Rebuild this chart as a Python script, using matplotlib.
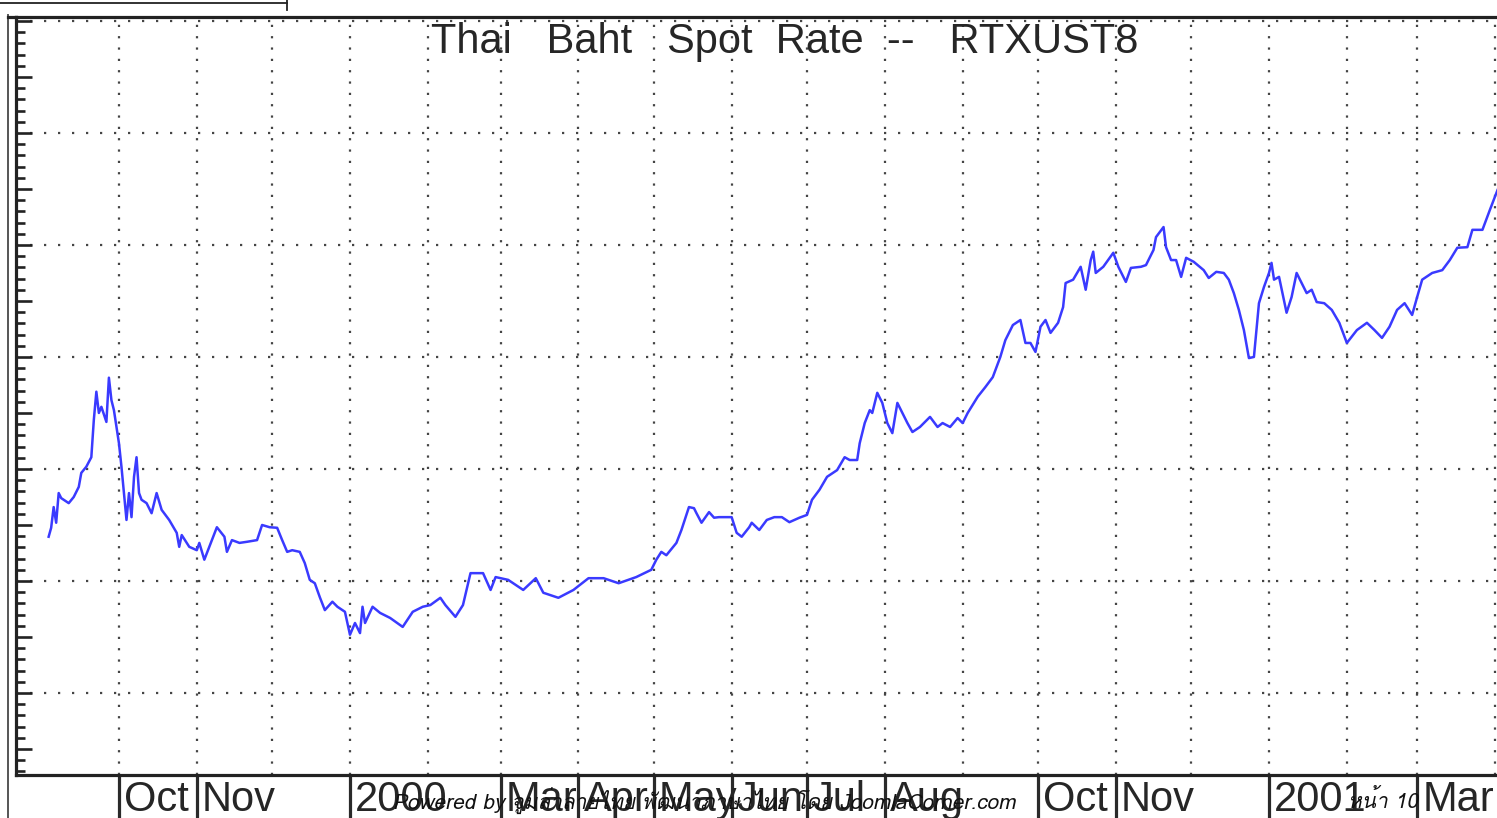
import numpy as np
import pandas as pd
import matplotlib
matplotlib.use("Agg")
import matplotlib.pyplot as plt
import matplotlib.dates as mdates
from matplotlib.ticker import MultipleLocator
from matplotlib.transforms import offset_copy
from matplotlib.lines import Line2D
from matplotlib import font_manager as fm
from matplotlib.ft2font import FT2Font

# ---------------- data ----------------
dates = [
    "1999-09-03", "1999-09-04", "1999-09-05", "1999-09-06", "1999-09-07", "1999-09-08", "1999-09-11",
    "1999-09-13", "1999-09-15", "1999-09-16", "1999-09-18", "1999-09-20", "1999-09-21", "1999-09-22",
    "1999-09-23", "1999-09-24", "1999-09-26", "1999-09-27", "1999-09-28", "1999-09-29",
    "1999-10-01", "1999-10-02", "1999-10-04", "1999-10-05", "1999-10-06", "1999-10-07", "1999-10-08",
    "1999-10-09", "1999-10-10", "1999-10-12", "1999-10-14", "1999-10-16", "1999-10-18", "1999-10-21",
    "1999-10-24", "1999-10-25", "1999-10-26", "1999-10-29",
    "1999-11-01", "1999-11-02", "1999-11-04", "1999-11-06", "1999-11-09", "1999-11-12", "1999-11-13",
    "1999-11-15", "1999-11-18", "1999-11-21", "1999-11-25", "1999-11-27", "1999-11-30",
    "1999-12-03", "1999-12-05", "1999-12-07", "1999-12-09", "1999-12-12", "1999-12-14", "1999-12-16",
    "1999-12-18", "1999-12-20", "1999-12-22", "1999-12-25", "1999-12-27", "1999-12-30",
    "2000-01-01", "2000-01-03", "2000-01-05", "2000-01-06", "2000-01-07", "2000-01-10", "2000-01-13",
    "2000-01-17", "2000-01-22", "2000-01-26", "2000-01-30",
    "2000-02-02", "2000-02-06", "2000-02-08", "2000-02-12", "2000-02-15", "2000-02-18", "2000-02-20",
    "2000-02-23", "2000-02-26", "2000-02-28",
    "2000-03-04", "2000-03-10", "2000-03-15", "2000-03-18", "2000-03-24", "2000-03-30",
    "2000-04-05", "2000-04-11", "2000-04-17", "2000-04-24", "2000-04-30",
    "2000-05-02", "2000-05-04", "2000-05-06", "2000-05-10", "2000-05-12", "2000-05-15", "2000-05-17",
    "2000-05-18", "2000-05-20", "2000-05-23", "2000-05-25", "2000-05-27",
    "2000-06-01", "2000-06-03", "2000-06-05", "2000-06-08", "2000-06-09", "2000-06-12", "2000-06-15",
    "2000-06-18", "2000-06-21", "2000-06-24", "2000-06-28",
    "2000-07-01", "2000-07-03", "2000-07-06", "2000-07-09", "2000-07-13", "2000-07-16", "2000-07-18",
    "2000-07-21", "2000-07-22", "2000-07-24", "2000-07-26", "2000-07-27", "2000-07-29", "2000-07-31",
    "2000-08-02", "2000-08-04", "2000-08-06", "2000-08-08", "2000-08-10", "2000-08-12", "2000-08-15",
    "2000-08-19", "2000-08-22", "2000-08-24", "2000-08-27", "2000-08-30",
    "2000-09-01", "2000-09-03", "2000-09-07", "2000-09-10", "2000-09-13", "2000-09-16", "2000-09-18",
    "2000-09-21", "2000-09-24", "2000-09-26", "2000-09-28", "2000-09-30",
    "2000-10-02", "2000-10-04", "2000-10-06", "2000-10-09", "2000-10-11", "2000-10-12", "2000-10-15",
    "2000-10-18", "2000-10-20", "2000-10-22", "2000-10-23", "2000-10-24", "2000-10-27", "2000-10-31",
    "2000-11-02", "2000-11-05", "2000-11-07", "2000-11-11", "2000-11-13", "2000-11-16", "2000-11-17",
    "2000-11-20", "2000-11-21", "2000-11-23", "2000-11-25", "2000-11-27", "2000-11-29",
    "2000-12-02", "2000-12-06", "2000-12-08", "2000-12-11", "2000-12-14", "2000-12-16", "2000-12-18",
    "2000-12-20", "2000-12-22", "2000-12-24", "2000-12-26", "2000-12-27", "2000-12-28", "2000-12-30",
    "2001-01-01", "2001-01-02", "2001-01-03", "2001-01-05", "2001-01-08", "2001-01-10", "2001-01-12",
    "2001-01-14", "2001-01-16", "2001-01-18", "2001-01-20", "2001-01-23", "2001-01-26", "2001-01-29",
    "2001-02-01", "2001-02-05", "2001-02-09", "2001-02-12", "2001-02-15", "2001-02-18", "2001-02-21",
    "2001-02-24", "2001-02-27",
    "2001-03-01", "2001-03-03", "2001-03-07", "2001-03-11", "2001-03-14", "2001-03-17", "2001-03-21",
    "2001-03-23", "2001-03-27", "2001-03-30", "2001-04-02",
]
rates = [
    38.79, 38.95, 39.32, 39.04, 39.57, 39.48, 39.39, 39.50, 39.68, 39.93, 40.04, 40.21, 40.88, 41.38,
    41.00, 41.11, 40.84, 41.63, 41.23, 41.05,
    40.46, 40.04, 39.09, 39.57, 39.14, 39.86, 40.21, 39.57, 39.45, 39.39, 39.21, 39.57, 39.27, 39.09,
    38.86, 38.61, 38.82, 38.61,
    38.55, 38.68, 38.38, 38.61, 38.96, 38.79, 38.52, 38.73, 38.68, 38.70, 38.73, 39.00, 38.96,
    38.95, 38.73, 38.52, 38.55, 38.52, 38.32, 38.02, 37.96, 37.71, 37.48, 37.63, 37.54, 37.45,
    37.04, 37.25, 37.07, 37.54, 37.25, 37.54, 37.43, 37.34, 37.18, 37.45, 37.54,
    37.57, 37.70, 37.57, 37.36, 37.57, 38.14, 38.14, 38.14, 37.84, 38.07,
    38.02, 37.84, 38.05, 37.79, 37.70, 37.84,
    38.05, 38.05, 37.96, 38.07, 38.20,
    38.38, 38.52, 38.46, 38.68, 38.91, 39.32, 39.30, 39.21, 39.04, 39.23, 39.13, 39.14,
    39.14, 38.86, 38.79, 38.96, 39.04, 38.91, 39.09, 39.14, 39.14, 39.05, 39.13,
    39.18, 39.45, 39.63, 39.86, 39.98, 40.21, 40.16, 40.16, 40.46, 40.82, 41.05, 41.00, 41.36, 41.18,
    40.82, 40.64, 41.18, 41.00, 40.82, 40.66, 40.75, 40.93, 40.75, 40.82, 40.75, 40.91,
    40.82, 41.00, 41.29, 41.46, 41.64, 42.00, 42.30, 42.57, 42.66, 42.25, 42.25, 42.09,
    42.54, 42.66, 42.43, 42.61, 42.89, 43.32, 43.38, 43.61, 43.20, 43.73, 43.88, 43.50, 43.61, 43.86,
    43.61, 43.34, 43.59, 43.61, 43.64, 43.91, 44.14, 44.32, 43.96, 43.73, 43.73, 43.43, 43.77,
    43.70, 43.55, 43.41, 43.52, 43.50, 43.38, 43.14, 42.84, 42.48, 41.98, 42.00, 42.48, 42.96, 43.25,
    43.50, 43.68, 43.38, 43.43, 42.79, 43.07, 43.50, 43.32, 43.14, 43.20, 42.98, 42.96, 42.84, 42.61,
    42.25, 42.48, 42.61, 42.48, 42.34, 42.54, 42.84, 42.96, 42.75,
    43.07, 43.38, 43.50, 43.55, 43.73, 43.95, 43.96, 44.27, 44.27, 44.63, 44.98,
]
label_dates = ["1999-10-01", "1999-11-01", "2000-01-01", "2000-03-01", "2000-04-01", "2000-05-01",
               "2000-06-01", "2000-07-01", "2000-08-01", "2000-10-01", "2000-11-01", "2001-01-01",
               "2001-03-01"]
label_texts = ["Oct", "Nov", "2000", "Mar", "Apr", "May", "Jun", "Jul", "Aug", "Oct", "Nov", "2001", "Mar"]
grid_start, grid_end = "1999-10-01", "2001-04-01"
title = "Thai   Baht   Spot  Rate  --   RTXUST8"
footer_text = "Powered by จูมล่าลายไทย พัฒนาภาษาไทย โดย JoomlaCorner.com"
page_text = "หน้า 10"

# ---------------- fonts ----------------
thai_family = None
for f in fm.fontManager.ttflist:
    try:
        if 0x0E01 in FT2Font(f.fname).get_charmap():
            thai_family = f.name
            break
    except Exception:
        pass
base = "Liberation Sans"
wm_fam = ([thai_family] if thai_family else []) + ["DejaVu Sans"]

# ---------------- figure ----------------
W, H = 1497, 818
fig = plt.figure(figsize=(W / 100, H / 100), dpi=100)
fig.patch.set_facecolor("white")

ax_l, ax_r, ax_t, ax_b = 16, 1497, 17, 775
ax = fig.add_axes([ax_l / W, (H - ax_b) / H, (ax_r - ax_l) / W, (ax_b - ax_t) / H])

x = pd.to_datetime(dates)
ax.plot(x, rates, color="#3a3aff", lw=1.8, zorder=3)

x0 = mdates.date2num(pd.Timestamp("1999-08-21"))
x1 = mdates.date2num(pd.Timestamp("2001-04-01")) + 0.8
ax.set_xlim(x0, x1)
ax.set_ylim(34.536, 48.07)

# vertical dotted grid at each month start
ax.set_xticks(pd.date_range(grid_start, grid_end, freq="MS"))
ax.tick_params(axis="x", which="both", length=0, labelbottom=False)
ax.xaxis.grid(True, color="#444444", lw=1.6, linestyle=(0, (1, 4.1)))

# y ticks: long every 1, short every 0.2, no labels
ax.yaxis.set_major_locator(MultipleLocator(1))
ax.yaxis.set_minor_locator(MultipleLocator(0.2))
ax.tick_params(axis="y", which="major", direction="in", length=11.5, width=1.9,
               color="#222222", labelleft=False)
ax.tick_params(axis="y", which="minor", direction="in", length=6.2, width=1.9, color="#222222")
ax.yaxis.grid(False)
for g in MultipleLocator(2).tick_values(34.536, 48.07):
    if 34.6 < g < 48.07:
        ax.axhline(g, color="#444444", lw=1.6, linestyle=(0, (1, 5.3)), zorder=1)

for s in ["left", "bottom", "top"]:
    ax.spines[s].set_color("#222222")
    ax.spines[s].set_linewidth(2.3)
ax.spines["right"].set_visible(False)

# month label boxes below the axis
sep_bottom = -(H - ax_b) / (ax_b - ax_t)
ax.vlines(pd.to_datetime(label_dates), sep_bottom, 0, transform=ax.get_xaxis_transform(),
          color="#2a2a2a", lw=2.3, clip_on=False)
lab_tr = offset_copy(ax.get_xaxis_transform(), fig=fig, x=5, y=0, units="dots")
for d, t in zip(pd.to_datetime(label_dates), label_texts):
    ax.text(mdates.date2num(d), -25 / (ax_b - ax_t), t, transform=lab_tr, ha="left", va="center",
            fontsize=30, family=base, color="#262626", clip_on=False)

# title
fig.text(785 / W, 1 - 42 / H, title, ha="center", va="center", fontsize=30, family=base,
         color="#262626")

# frame lines
fig.add_artist(Line2D([8 / W, 8 / W], [0, 1 - 15 / H], transform=fig.transFigure,
                      color="#555555", lw=1.4))
fig.add_artist(Line2D([8 / W, ax_l / W], [1 - 17 / H, 1 - 17 / H], transform=fig.transFigure,
                      color="#222222", lw=2.3))
fig.add_artist(Line2D([0, 287 / W], [1 - 3 / H, 1 - 3 / H], transform=fig.transFigure,
                      color="#222222", lw=1.3))
fig.add_artist(Line2D([287 / W, 287 / W], [1, 1 - 10 / H], transform=fig.transFigure,
                      color="#222222", lw=1.3))

# overlaid footer watermark
fig.text(393 / W, 1 - 801 / H, footer_text, ha="left", va="center", fontsize=15,
         style="italic", family=wm_fam, color="#111111")
fig.text(1348 / W, 1 - 801 / H, page_text, ha="left", va="center", fontsize=15,
         style="italic", family=wm_fam, color="#111111")

fig.savefig("out.png", dpi=100)
